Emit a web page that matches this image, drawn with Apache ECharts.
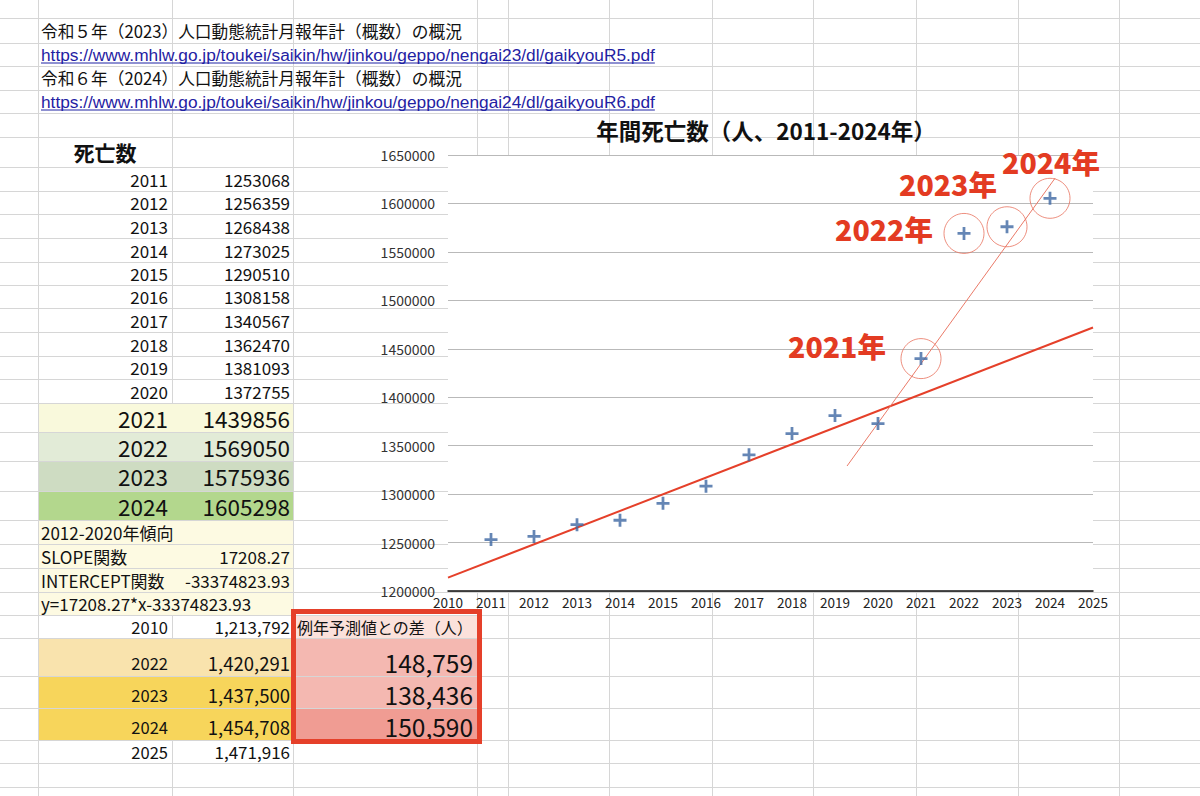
<!DOCTYPE html>
<html><head><meta charset="utf-8">
<script src="https://cdn.jsdelivr.net/npm/echarts@6/dist/echarts.min.js"></script>
<style>html,body{margin:0;padding:0;background:#fff}#c{width:1200px;height:796px}</style>
</head><body><div id="c"></div>
<script>
// ---------- data ----------
const sourceTitles = ['令和５年（2023）人口動態統計月報年計（概数）の概況', '令和６年（2024）人口動態統計月報年計（概数）の概況'];
const sourceUrls = ['https://www.mhlw.go.jp/toukei/saikin/hw/jinkou/geppo/nengai23/dl/gaikyouR5.pdf', 'https://www.mhlw.go.jp/toukei/saikin/hw/jinkou/geppo/nengai24/dl/gaikyouR6.pdf'];
const tableTitle = '死亡数';
const chartTitle = '年間死亡数（人、2011-2024年）';
const years = [2011, 2012, 2013, 2014, 2015, 2016, 2017, 2018, 2019, 2020, 2021, 2022, 2023, 2024];
const deaths = [1253068, 1256359, 1268438, 1273025, 1290510, 1308158, 1340567, 1362470, 1381093, 1372755, 1439856, 1569050, 1575936, 1605298];
const highlightYears = [2021, 2022, 2023, 2024];
const trendPeriod = '2012-2020年傾向';
const slopeLabel = 'SLOPE関数';
const interceptLabel = 'INTERCEPT関数';
const slope = 17208.27;
const intercept = -33374823.93;
const predYears = [2010, 2022, 2023, 2024, 2025];
const predValues = [1213792, 1420291, 1437500, 1454708, 1471916];
const diffHeader = '例年予測値との差（人）';
const diffValues = [148759, 138436, 150590];
const handLine = [[2019.28, 1329000], [2024.12, 1626200]];
const xMin = 2010, xMax = 2025, xStep = 1;
const yMin = 1200000, yMax = 1650000, yStep = 50000;

// ---------- layout / style ----------
const JP = '"Noto Sans CJK JP","Noto Sans",sans-serif';
const LAT = '"Liberation Sans",Arial,sans-serif';
const colX = [38, 172, 293, 477, 508, 609, 712, 813, 916, 1018, 1119];
const rowY = [18, 43, 66, 90, 113, 137, 167, 191, 214, 238, 262, 285, 308, 332, 356, 379, 403, 432, 461, 491, 520, 544, 568, 592, 615, 638, 676, 708, 740, 763, 787];
const rowTop = k => rowY[k - 1], rowBot = k => rowY[k], rowMid = k => (rowY[k - 1] + rowY[k]) / 2;
const RED = '#e33b22';
const fmt = v => v.toLocaleString('en-US');

const g = [];
function txt(x, y, text, size, opt) {
  opt = opt || {};
  g.push({
    type: 'text', z: -5, x: x, y: y, silent: true,
    style: {
      text: text, fill: opt.fill || '#111',
      font: (opt.weight || 'normal') + ' ' + size + 'px ' + (opt.family || JP),
      align: opt.align || 'left', verticalAlign: 'middle',
      textAlign: opt.align || 'left', textVerticalAlign: 'middle'
    }
  });
}
function rect(x, y, w, h, fill) {
  g.push({ type: 'rect', z: -9, silent: true, shape: { x: x, y: y, width: w, height: h }, style: { fill: fill } });
}
function line(x1, y1, x2, y2, color, w, z) {
  g.push({ type: 'line', z: z || -8, silent: true, shape: { x1: x1, y1: y1, x2: x2, y2: y2 }, style: { stroke: color, lineWidth: w } });
}

// cell fills
const leftFill = { 17: '#f9f9dc', 18: '#e2ebd7', 19: '#cedcc2', 20: '#b3d78d', 21: '#fdfae2', 22: '#fdfae2', 23: '#fdfae2', 24: '#fdfae2', 26: '#f9e3ad', 27: '#f7d55b', 28: '#f7d55b' };
Object.keys(leftFill).forEach(k => { k = +k; rect(colX[0] + 1, rowTop(k) + 1, colX[2] - colX[0] - 1, rowBot(k) - rowTop(k) - 1, leftFill[k]); });
const boxFill = { 25: '#fbe1db', 26: '#f4b8b1', 27: '#f4b8b1', 28: '#f09c93' };
Object.keys(boxFill).forEach(k => { k = +k; rect(colX[2] + 1, rowTop(k) + 1, colX[3] - colX[2] - 1, rowBot(k) - rowTop(k) - 1, boxFill[k]); });

// spreadsheet grid lines
rowY.forEach(y => line(0, y + 0.5, 1200, y + 0.5, '#d6d6d6', 1, -10));
colX.forEach(x => line(x + 0.5, 0, x + 0.5, 796, '#d6d6d6', 1, -10));

// sources
const mctx = document.createElement('canvas').getContext('2d');
sourceTitles.forEach((t, i) => {
  txt(41, rowMid(1 + 2 * i), t, 16.7);
  const url = sourceUrls[i];
  const ym = rowMid(2 + 2 * i);
  txt(41, ym, url, 17.3, { family: LAT, fill: '#1f22a3' });
  mctx.font = '17.3px ' + LAT;
  const w = mctx.measureText(url).width;
  line(41, ym + 8.5, 41 + w, ym + 8.5, '#1f22a3', 1, -4);
});

// table
txt((colX[0] + colX[1]) / 2, rowMid(6), tableTitle, 21, { weight: 'bold', align: 'center' });
years.forEach((yr, i) => {
  const k = 7 + i;
  const size = yr >= highlightYears[0] ? 22.5 : 17;
  txt(168, rowMid(k), String(yr), size, { align: 'right' });
  txt(290, rowMid(k), String(deaths[i]), size, { align: 'right' });
});
txt(41, rowMid(21), trendPeriod, 17);
txt(41, rowMid(22), slopeLabel, 17);
txt(290, rowMid(22), slope.toFixed(2), 17, { align: 'right' });
txt(41, rowMid(23), interceptLabel, 17);
txt(290, rowMid(23), intercept.toFixed(2), 17, { align: 'right' });
txt(41, rowMid(24), 'y=' + slope.toFixed(2) + '*x' + intercept.toFixed(2), 17);
// predictions
predYears.forEach((yr, i) => {
  const k = 25 + i;
  const highlighted = k >= 26 && k <= 28;
  const y = highlighted ? rowBot(k) - 13.5 : rowMid(k);
  txt(168, y, String(yr), 16.5, { align: 'right' });
  txt(290, y, fmt(predValues[i]), highlighted ? 18.5 : 17, { align: 'right' });
});
txt(297, rowMid(25), diffHeader, 16);
diffValues.forEach((v, i) => txt(473, rowBot(26 + i) - 13.5, fmt(v), 24.5, { align: 'right' }));
// red frame
g.push({ type: 'rect', z: -3, silent: true, shape: { x: 293.5, y: 611.5, width: 186, height: 130 }, style: { fill: 'none', stroke: '#e5402a', lineWidth: 5 } });

// ---------- series data ----------
const points = years.map((y, i) => [y, deaths[i]]);
const trend = [[predYears[0], predValues[0]], [predYears[predYears.length - 1], predValues[predValues.length - 1]]];
const labelOffsets = [[-84, -13], [-80, -5], [-59, -43], [1, -37]];
const circles = highlightYears.map((y, i) => ({
  value: [y, deaths[years.indexOf(y)]],
  label: { show: true, position: 'inside', offset: labelOffsets[i], formatter: y + '年' }
}));
const plus = 'path://M4.8,0h2.6v4.8h4.8v2.6h-4.8v4.8h-2.6v-4.8h-4.8v-2.6h4.8z';

const chart = echarts.init(document.getElementById('c'), null, { renderer: 'svg', width: 1200, height: 796 });
chart.setOption({
  animation: false,
  backgroundColor: 'transparent',
  title: {
    text: chartTitle, left: 761, top: 114, textAlign: 'center',
    textStyle: { fontFamily: JP, fontWeight: 'bold', fontSize: 22.5, color: '#111' }
  },
  grid: { left: 448, right: 107, top: 155, bottom: 205, show: true, backgroundColor: '#fff', borderWidth: 0, borderColor: 'transparent' },
  xAxis: {
    type: 'value', min: xMin, max: xMax, interval: xStep,
    axisLine: { show: true, onZero: false, lineStyle: { color: '#111', width: 1.5 } },
    axisTick: { show: false }, splitLine: { show: false },
    axisLabel: { margin: 4, fontSize: 13.5, color: '#222', fontFamily: JP, formatter: v => String(v) }
  },
  yAxis: {
    type: 'value', min: yMin, max: yMax, interval: yStep,
    axisLine: { show: false }, axisTick: { show: false },
    splitLine: { show: true, lineStyle: { color: '#b9b9b9', width: 1 } },
    axisLabel: { margin: 13, fontSize: 14, color: '#333', fontFamily: JP, formatter: v => String(v) }
  },
  series: [
    { type: 'line', data: trend, symbol: 'none', lineStyle: { color: '#e5402a', width: 2 }, z: 3, silent: true },
    { type: 'line', data: handLine, symbol: 'none', lineStyle: { color: '#ea7a68', width: 1 }, z: 3, silent: true },
    {
      type: 'scatter', data: circles, symbol: 'circle', symbolSize: 40, z: 4, silent: true,
      itemStyle: { color: 'rgba(0,0,0,0)', borderColor: '#e8735f', borderWidth: 1 },
      label: { color: RED, opacity: 1, textBorderWidth: 0, fontSize: 28.5, fontWeight: 900, fontFamily: JP }
    },
    { type: 'scatter', data: points, symbol: plus, symbolSize: 13, z: 5, silent: true, itemStyle: { color: '#3f68a3' } }
  ],
  graphic: { elements: g }
});
</script>
</body></html>
